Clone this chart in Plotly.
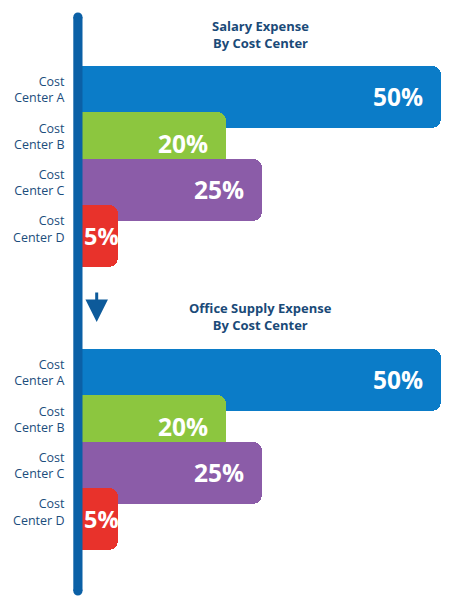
import plotly.graph_objects as go

categories = ["Cost<br>Center A", "Cost<br>Center B", "Cost<br>Center C", "Cost<br>Center D"]
salary_values = [50, 20, 25, 5]
office_values = [50, 20, 25, 5]
bar_colors = ["#0b7cc8", "#8cc63f", "#8b5ca8", "#e8322b"]
titles = ["Salary Expense<br>By Cost Center", "Office Supply Expense<br>By Cost Center"]

W, H = 460, 608
ML, MR = 82, 19
PW = W - ML - MR

def px(x):
    return (x - ML) / PW

def py(y):
    return 1 - y / H

fig = go.Figure()

for i, vals in enumerate([salary_values, office_values]):
    xa = "x" if i == 0 else "x2"
    ya = "y" if i == 0 else "y2"
    fig.add_trace(go.Bar(
        x=vals, y=categories, orientation="h",
        width=1.34,
        marker=dict(color=bar_colors, cornerradius=9, line=dict(width=0)),
        xaxis=xa, yaxis=ya,
        hoverinfo="skip",
        showlegend=False,
    ))
    # value labels inside the bars
    for cat, v in zip(categories, vals):
        big = v >= 10
        fig.add_annotation(
            text=f"<b>{v}%</b>", xref=xa, yref=ya,
            x=v if big else v / 2, y=cat,
            xanchor="right" if big else "center", yanchor="middle",
            xshift=-16 if big else 1.5, showarrow=False,
            font=dict(family="Open Sans", size=24.5 if big else 23.5, color="white"),
        )

ax_common = dict(range=[0, 50], showgrid=False, zeroline=False, showticklabels=False, showline=False)
ay_common = dict(range=[3.8, -0.8], showgrid=False, zeroline=False, showline=False,
                 ticks="outside", ticklen=14, tickcolor="rgba(0,0,0,0)", ticklabelshift=7,
                 tickfont=dict(family="Open Sans", size=12.5, color="#1b4d7c"))

fig.update_layout(
    width=W, height=H,
    margin=dict(l=ML, r=MR, t=0, b=0),
    paper_bgcolor="white", plot_bgcolor="white",
    xaxis=dict(domain=[0, 1], anchor="y", **ax_common),
    xaxis2=dict(domain=[0, 1], anchor="y2", **ax_common),
    yaxis=dict(domain=[py(273.1), py(59.9)], anchor="x", **ay_common),
    yaxis2=dict(domain=[py(556.1), py(342.9)], anchor="x2", **ay_common),
    bargap=0,
)

# vertical axis bar with rounded ends
lc = "#0b60a6"
x0, x1 = px(73.3), px(82.5)
fig.add_shape(type="rect", xref="paper", yref="paper", x0=x0, x1=x1, y0=py(591), y1=py(17),
              fillcolor=lc, line=dict(width=0), layer="above")
fig.add_shape(type="circle", xref="paper", yref="paper", x0=x0, x1=x1, y0=py(21.6), y1=py(12.4),
              fillcolor=lc, line=dict(width=0), layer="above")
fig.add_shape(type="circle", xref="paper", yref="paper", x0=x0, x1=x1, y0=py(595.6), y1=py(586.4),
              fillcolor=lc, line=dict(width=0), layer="above")

# titles
for t, yc in zip(titles, [34, 316]):
    fig.add_annotation(text=f"<b>{t}</b>", xref="paper", yref="paper", x=px(260), y=py(yc),
                       showarrow=False, xanchor="center", yanchor="middle",
                       font=dict(family="Open Sans", size=13, color="#1a4a78"))

# down arrow
fig.add_annotation(text="", xref="paper", yref="paper", x=px(96.7), y=py(322),
                   ax=0, ay=-31, showarrow=True, arrowhead=2, arrowsize=1.5, arrowwidth=3,
                   arrowcolor="#0d5a9a", standoff=0)

fig.write_html("out.html")
